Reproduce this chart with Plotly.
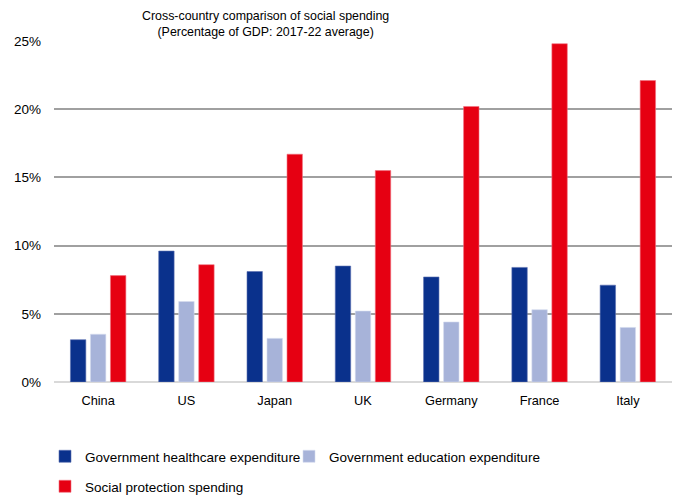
import plotly.graph_objects as go

countries = ["China", "US", "Japan", "UK", "Germany", "France", "Italy"]
healthcare = [3.1, 9.6, 8.1, 8.5, 7.7, 8.4, 7.1]
education = [3.5, 5.9, 3.2, 5.2, 4.4, 5.3, 4.0]
social_protection = [7.8, 8.6, 16.7, 15.5, 20.2, 24.8, 22.1]

y_ticks = [0, 5, 10, 15, 20, 25]
y_tick_labels = ["0%", "5%", "10%", "15%", "20%", "25%"]

FONT = "Liberation Sans, Arial, sans-serif"
W, H = 673, 501

fig = go.Figure()
fig.add_trace(go.Bar(
    x=countries, y=healthcare, name="Government healthcare expenditure",
    marker=dict(color="#0A318C", line=dict(color="#5A6FB0", width=0.6)),
    legend="legend",
))
fig.add_trace(go.Bar(
    x=countries, y=education, name="Government education expenditure",
    marker=dict(color="#A7B3D9", line=dict(color="#D5DCEE", width=0.6)),
    legend="legend2",
))
fig.add_trace(go.Bar(
    x=countries, y=social_protection, name="Social protection spending",
    marker=dict(color="#E60012", line=dict(color="#F07080", width=0.6)),
    legend="legend3",
))


def legend_box(left_px, top_px):
    return dict(
        orientation="h", x=left_px / W, xref="container", xanchor="left",
        y=1 - top_px / H, yref="container", yanchor="top",
        font=dict(family=FONT, size=13.5), itemwidth=30,
        bgcolor="rgba(0,0,0,0)", borderwidth=0,
    )


fig.update_layout(
    width=W, height=H,
    margin=dict(l=54, r=1, t=41, b=119),
    paper_bgcolor="white", plot_bgcolor="white",
    font=dict(family=FONT, size=13, color="#000000"),
    barmode="group", bargap=0.32, bargroupgap=0.23,
    showlegend=True,
    legend=legend_box(45, 441),
    legend2=legend_box(289, 441),
    legend3=legend_box(45, 471),
    annotations=[dict(
        text="Cross-country comparison of social spending<br>(Percentage of GDP: 2017-22 average)",
        xref="paper", yref="paper",
        x=(265 - 54) / 618, y=1 + (41 - 24) / 341,
        xanchor="center", yanchor="middle", showarrow=False,
        font=dict(family=FONT, size=12.4, color="#000000"),
    )],
)

fig.update_xaxes(
    showgrid=False, showline=False, ticks="",
    tickfont=dict(family=FONT, size=12.8),
    ticklabelstandoff=9,
)
fig.update_yaxes(
    range=[0, 25], tickvals=y_ticks, ticktext=y_tick_labels,
    showgrid=True, gridcolor="#A0A0A0", gridwidth=1.6,
    zeroline=True, zerolinecolor="#D9D9D9", zerolinewidth=2,
    showline=False, ticks="",
    tickfont=dict(family=FONT, size=13.5),
    ticklabelstandoff=12,
)

fig.write_html("out.html")
